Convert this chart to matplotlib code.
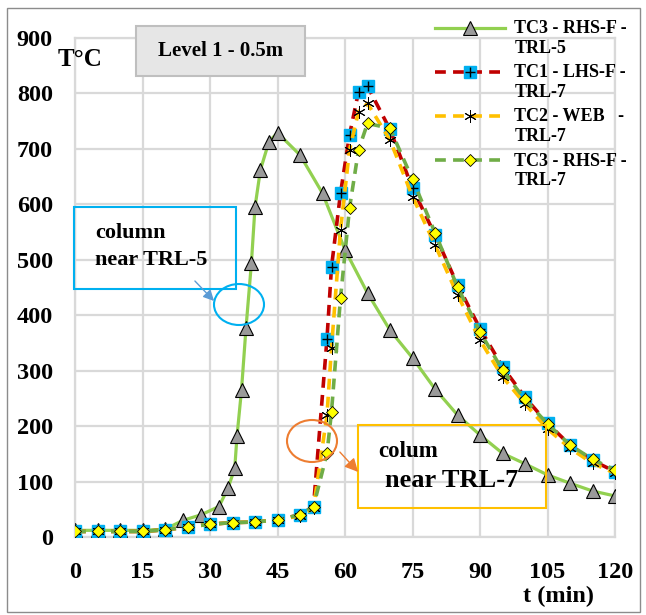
import numpy as np
import matplotlib
matplotlib.use('Agg')
import matplotlib.pyplot as plt
from matplotlib.patches import Rectangle, Ellipse
from matplotlib.legend_handler import HandlerLine2D, HandlerTuple
from matplotlib.lines import Line2D

plt.rcParams['font.family'] = 'Liberation Serif'
plt.rcParams['font.weight'] = 'bold'

### DATA
t_trl5 = [0, 5, 10, 15, 20, 24, 28, 32, 34, 35.5, 36, 37, 38, 39.2, 40, 41.2, 43.1, 45,
          50, 55, 60, 65, 70, 75, 80, 85, 90, 95, 100, 105, 110, 115, 120]
tc3_trl5 = [12, 12, 12, 12, 14, 30, 40, 55, 88, 124, 182, 265, 377, 494, 595, 662, 713, 729,
            689, 620, 518, 440, 373, 323, 267, 220, 184, 151, 132, 112, 97, 83, 74]

t_trl7 = [0, 5, 10, 15, 20, 25, 30, 35, 40, 45, 50, 53, 56, 57, 59, 61, 63, 65,
          70, 75, 80, 85, 90, 95, 100, 105, 110, 115, 120]
tc1_trl7 = [10, 10, 10, 10, 13, 18, 23, 26, 27, 31, 40, 55, 358, 487, 620, 725, 803, 813,
            735, 629, 545, 455, 376, 307, 252, 205, 166, 138, 118]
tc2_trl7 = [10, 10, 10, 10, 13, 18, 23, 26, 27, 31, 38, 52, 220, 341, 554, 698, 767, 782,
            716, 614, 527, 437, 355, 289, 240, 195, 160, 133, 115]
tc3_trl7 = [10, 10, 10, 10, 13, 18, 23, 26, 27, 31, 40, 55, 151, 226, 431, 593, 698, 746,
            737, 645, 549, 451, 370, 301, 248, 204, 166, 140, 121]

labels = ['TC3 - RHS-F -\nTRL-5', 'TC1 - LHS-F -\nTRL-7',
          'TC2 - WEB   -\nTRL-7', 'TC3 - RHS-F -\nTRL-7']
xticks = [0, 15, 30, 45, 60, 75, 90, 105, 120]
yticks = [0, 100, 200, 300, 400, 500, 600, 700, 800, 900]

W, H = 646, 615
fig = plt.figure(figsize=(W / 100, H / 100), dpi=100)
ax = fig.add_axes([75 / W, 78 / H, 540 / W, 499 / H])

l5, = ax.plot(t_trl5, tc3_trl5, color='#92d050', lw=2.3, marker='^', ms=9.5,
              mfc='#9a9a9a', mec='black', mew=0.8, zorder=3)
l1a, = ax.plot(t_trl7, tc1_trl7, color='#c00000', lw=2.6, ls=(0, (3, 2)), marker='s', ms=8,
               mfc='#00b0f0', mec='#00b0f0', zorder=4)
l1b, = ax.plot(t_trl7, tc1_trl7, ls='none', marker='+', ms=7, color='black', mew=1, zorder=4)
l2, = ax.plot(t_trl7, tc2_trl7, color='#ffc000', lw=2.6, ls=(0, (3, 2)), marker=(6, 2, 0), ms=9,
              mfc='black', mec='black', mew=0.7, zorder=5)
l3, = ax.plot(t_trl7, tc3_trl7, color='#70ad47', lw=2.6, ls=(0, (3, 2)), marker='D', ms=6.5,
              mfc='#ffff00', mec='black', mew=0.6, zorder=6)

ax.set_xlim(0, 120)
ax.set_ylim(0, 900)
ax.set_xticks(xticks)
ax.set_yticks(yticks)
ax.tick_params(length=0, labelsize=17.5)
ax.tick_params(axis='y', pad=16)
ax.tick_params(axis='x', pad=18)
ax.grid(True, color='#d9d9d9', lw=1.6)
ax.set_axisbelow(True)
for s in ax.spines.values():
    s.set_color('#d9d9d9')
    s.set_linewidth(1.6)


# legend: handle sits on the first text line like in the original
class TopLine(HandlerLine2D):
    def create_artists(self, legend, orig_handle, xdescent, ydescent, width, height, fontsize, trans):
        arts = super().create_artists(legend, orig_handle, xdescent, ydescent, width, height, fontsize, trans)
        for a in arts:
            a.set_ydata(np.asarray(a.get_ydata()) + 0.6 * fontsize)
        return arts


leg = fig.legend([l5, (l1a, l1b), l2, l3], labels, loc='upper left',
                 bbox_to_anchor=(435 / W, 1 - 20 / H), frameon=False,
                 prop={'family': 'Liberation Serif', 'weight': 'bold', 'size': 13},
                 handlelength=3.9, handletextpad=0.5, labelspacing=0.42,
                 borderpad=0, borderaxespad=0, numpoints=1,
                 handler_map={Line2D: TopLine(), tuple: HandlerTuple(ndivide=1)})

# overlay in pixel coordinates for the boxes and callouts
ov = fig.add_axes([0, 0, 1, 1], zorder=10)
ov.set_xlim(0, W)
ov.set_ylim(H, 0)
ov.axis('off')
ov.patch.set_alpha(0)

ov.add_patch(Rectangle((7, 8), 633, 604, fill=False, ec='#8c8c8c', lw=1))
ov.add_patch(Rectangle((136, 26), 169, 50, fc='#e6e6e6', ec='#bfbfbf', lw=1.5))
ov.text(221, 51, 'Level 1 - 0.5m', ha='center', va='center', fontsize=15)
ov.text(58, 66, 'T°C', ha='left', va='baseline', fontsize=18)
ov.text(523, 602, 't (min)', ha='left', va='baseline', fontsize=17.5)

# TRL-5 callout
ov.add_patch(Rectangle((74, 207), 162, 82, fill=False, ec='#00b0f0', lw=1.5))
ov.text(95, 238, 'column', ha='left', va='baseline', fontsize=16)
ov.text(95, 265, 'near TRL-5', ha='left', va='baseline', fontsize=16)
ov.add_patch(Ellipse((239, 304.5), 50, 41, fill=False, ec='#00b0f0', lw=1.5))
ov.annotate('', xy=(216, 303), xytext=(193, 279),
            arrowprops=dict(arrowstyle='-|>', color='#5b9bd5', lw=1, mutation_scale=16))

# TRL-7 callout
ov.add_patch(Rectangle((358, 425), 188, 83, fill=False, ec='#ffc000', lw=1.5))
ov.text(378, 457, 'colum', ha='left', va='baseline', fontsize=16.5)
ov.text(385, 487, 'near TRL-7', ha='left', va='baseline', fontsize=19)
ov.add_patch(Ellipse((312, 441), 50, 42, fill=False, ec='#ed7d31', lw=1.5))
ov.annotate('', xy=(360, 474), xytext=(338, 450),
            arrowprops=dict(arrowstyle='-|>', color='#ed7d31', lw=1, mutation_scale=20))

fig.savefig('out.png', dpi=100)
